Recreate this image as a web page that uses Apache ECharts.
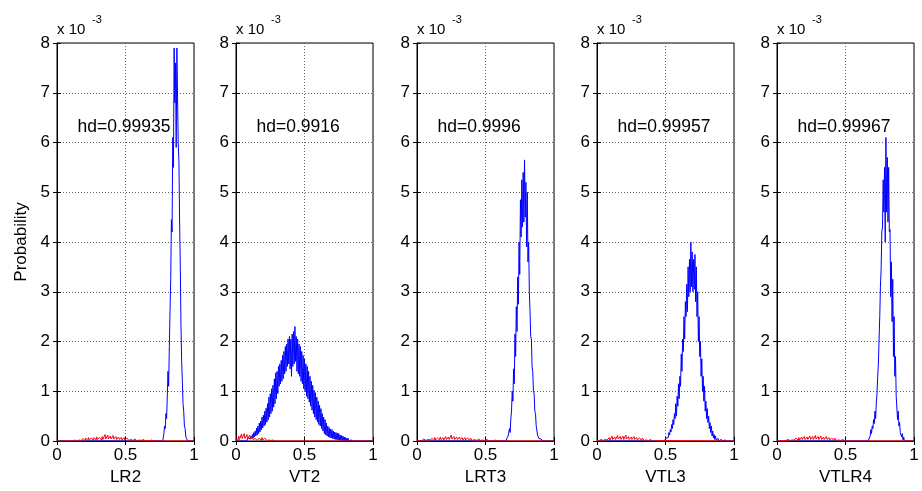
<!DOCTYPE html>
<html><head><meta charset="utf-8">
<script src="https://cdn.jsdelivr.net/npm/echarts@6/dist/echarts.min.js"></script>
<style>html,body{margin:0;padding:0;background:#fff}#c{width:922px;height:491px}</style>
</head><body><div id="c"></div>
<script>
// ---- data (probability values in units of 1e-3) ----
const panelNames = ['LR2', 'VT2', 'LRT3', 'VTL3', 'VTLR4'];
const hdLabels = ['hd=0.99935', 'hd=0.9916', 'hd=0.9996', 'hd=0.99957', 'hd=0.99967'];
const xTicks = [0, 0.5, 1];
const yTicks = [0, 1, 2, 3, 4, 5, 6, 7, 8];
const binWidth = 0.005;
const redBinWidth = 0.005;

const blueStart = [0.77, 0.06, 0.65, 0.49, 0.665];
const blueLR2 = [0, 0.05, 0.15, 0.3, 0.25, 0.55, 0.45, 0.9, 1.4, 1.1, 1.9, 2.6, 3.25, 4.45, 4.2, 6.1, 5.5, 7.9, 6.8, 7.6, 5.9, 7.9, 6.9, 6.0, 5.6, 4.4, 3.5, 2.3, 1.6, 1.2, 0.75, 0.6, 0.3, 0.25, 0.1, 0.05, 0.02, 0, 0.02, 0];
const blueVT2 = [0, 0.01, 0.02, 0, 0.04, 0.02, 0.06, 0.03, 0.08, 0.04, 0.1, 0.05, 0.13, 0.06, 0.17, 0.08, 0.2, 0.1, 0.26, 0.12, 0.3, 0.15, 0.36, 0.18, 0.4, 0.22, 0.48, 0.26, 0.52, 0.3, 0.6, 0.33, 0.66, 0.38, 0.75, 0.42, 0.88, 0.48, 0.95, 0.55, 1.05, 0.6, 1.12, 0.68, 1.25, 0.75, 1.37, 0.85, 1.4, 0.95, 1.5, 1.1, 1.55, 1.15, 1.62, 1.2, 1.72, 1.25, 1.8, 1.35, 1.9, 1.4, 1.95, 1.5, 2.05, 1.55, 2.1, 1.45, 2.05, 1.3, 2.15, 1.5, 2.2, 1.55, 2.3, 1.6, 2.1, 1.4, 2.05, 1.35, 1.95, 1.3, 1.9, 1.2, 1.8, 1.15, 1.72, 1.05, 1.65, 1.0, 1.55, 0.9, 1.5, 0.85, 1.4, 0.78, 1.3, 0.7, 1.2, 0.62, 1.12, 0.55, 1.02, 0.48, 0.97, 0.43, 0.88, 0.38, 0.8, 0.33, 0.72, 0.3, 0.65, 0.25, 0.55, 0.2, 0.48, 0.15, 0.43, 0.12, 0.36, 0.1, 0.3, 0.08, 0.27, 0.07, 0.24, 0.06, 0.23, 0.05, 0.2, 0.04, 0.18, 0.03, 0.17, 0.03, 0.16, 0.02, 0.15, 0.02, 0.12, 0.01, 0.11, 0.01, 0.1, 0, 0.08, 0, 0.07, 0, 0.06, 0, 0.05, 0, 0.03, 0, 0.02, 0, 0.02, 0, 0.01, 0, 0];
const blueLRT3 = [0, 0.05, 0.02, 0.1, 0.08, 0.25, 0.17, 0.45, 0.6, 1.0, 0.8, 1.45, 1.15, 2.15, 1.7, 2.7, 2.2, 3.3, 2.75, 4.0, 3.35, 4.85, 4.1, 5.25, 4.3, 5.4, 4.4, 5.65, 4.5, 5.2, 3.9, 5.0, 3.6, 4.0, 3.0, 2.6, 2.1, 2.05, 1.5, 1.4, 1.0, 0.95, 0.6, 0.55, 0.3, 0.3, 0.12, 0.15, 0.05, 0.08, 0.02, 0.04, 0, 0.02, 0];
const blueVTL3 = [0, 0.03, 0.02, 0.06, 0.04, 0.1, 0.07, 0.17, 0.12, 0.23, 0.18, 0.33, 0.25, 0.43, 0.33, 0.55, 0.45, 0.75, 0.5, 0.9, 0.7, 1.15, 0.85, 1.3, 1.1, 1.75, 1.4, 2.05, 1.8, 2.5, 2.05, 2.8, 2.5, 3.15, 2.6, 3.5, 2.9, 3.65, 3.0, 4.0, 3.1, 3.8, 3.0, 3.65, 3.05, 3.75, 2.8, 3.5, 2.5, 3.0, 2.0, 2.5, 1.7, 2.0, 1.3, 1.65, 1.0, 1.3, 0.8, 1.1, 0.6, 0.8, 0.45, 0.65, 0.37, 0.5, 0.25, 0.37, 0.17, 0.3, 0.1, 0.2, 0.06, 0.13, 0.03, 0.1, 0.02, 0.06, 0.01, 0.05, 0, 0.04, 0.01, 0.03, 0, 0.03, 0, 0.02, 0, 0.02, 0, 0.01, 0];
const blueVTLR4 = [0, 0.03, 0.02, 0.1, 0.23, 0.15, 0.3, 0.25, 0.43, 0.35, 0.6, 0.45, 0.77, 0.95, 1.3, 1.55, 2.05, 2.5, 3.1, 3.45, 4.2, 4.3, 5.25, 4.6, 5.5, 4.0, 6.1, 4.6, 5.7, 4.4, 5.5, 4.2, 4.25, 2.9, 3.6, 2.4, 3.25, 1.7, 2.5, 1.3, 1.7, 0.9, 0.9, 0.43, 0.6, 0.3, 0.37, 0.17, 0.2, 0.08, 0.15, 0.02, 0.08, 0, 0.03, 0];

const redStart = [0.10, 0.00, 0.02, 0.00, 0.05];
const redLR2 = [0, 0, 0.01, 0, 0, 0, 0.02, 0.01, 0.01, 0, 0.03, 0.01, 0.02, 0.01, 0.04, 0.01, 0.03, 0.01, 0.05, 0.02, 0.03, 0.01, 0.06, 0.02, 0.04, 0.01, 0.07, 0.02, 0.05, 0.02, 0.06, 0.02, 0.04, 0.01, 0.07, 0.03, 0.05, 0.02, 0.08, 0.03, 0.06, 0.02, 0.07, 0.03, 0.05, 0.02, 0.09, 0.03, 0.06, 0.02, 0.13, 0.04, 0.07, 0.03, 0.12, 0.04, 0.06, 0.02, 0.1, 0.04, 0.07, 0.03, 0.11, 0.04, 0.06, 0.02, 0.09, 0.03, 0.05, 0.02, 0.08, 0.03, 0.05, 0.02, 0.07, 0.02, 0.04, 0.01, 0.07, 0.02, 0.04, 0.01, 0.06, 0.02, 0.03, 0.01, 0.05, 0.02, 0.03, 0.01, 0.05, 0.01, 0.02, 0.01, 0.04, 0.01, 0.02, 0, 0.04, 0.01, 0.02, 0, 0.03, 0.01, 0.01, 0, 0.03, 0.01, 0.01, 0, 0.02, 0, 0.01, 0, 0.02, 0, 0, 0, 0.02, 0, 0, 0, 0.01, 0, 0, 0, 0.01, 0, 0];
const redVT2 = [0.02, 0.01, 0.06, 0.02, 0.1, 0.03, 0.07, 0.02, 0.14, 0.05, 0.09, 0.03, 0.15, 0.05, 0.08, 0.03, 0.13, 0.04, 0.07, 0.02, 0.12, 0.04, 0.05, 0.02, 0.08, 0.03, 0.03, 0.01, 0.05, 0.02, 0.02, 0.01, 0.04, 0.01, 0.06, 0.02, 0.03, 0.01, 0.07, 0.02, 0.04, 0.01, 0.06, 0.02, 0.03, 0.01, 0.05, 0.01, 0.02, 0.01, 0.04, 0.01, 0.01, 0, 0.02, 0, 0, 0, 0.01, 0, 0];
const redLRT3 = [0.01, 0, 0.03, 0.01, 0.02, 0.01, 0.04, 0.01, 0.02, 0.01, 0.05, 0.02, 0.03, 0.01, 0.06, 0.02, 0.03, 0.01, 0.05, 0.02, 0.04, 0.01, 0.07, 0.02, 0.04, 0.01, 0.06, 0.02, 0.05, 0.02, 0.08, 0.03, 0.05, 0.02, 0.07, 0.02, 0.05, 0.02, 0.09, 0.03, 0.06, 0.02, 0.08, 0.03, 0.05, 0.02, 0.12, 0.04, 0.06, 0.02, 0.09, 0.03, 0.05, 0.02, 0.08, 0.03, 0.05, 0.02, 0.08, 0.03, 0.04, 0.01, 0.07, 0.02, 0.04, 0.01, 0.07, 0.02, 0.04, 0.01, 0.06, 0.02, 0.03, 0.01, 0.06, 0.02, 0.03, 0.01, 0.05, 0.02, 0.03, 0.01, 0.05, 0.01, 0.02, 0.01, 0.04, 0.01, 0.02, 0.01, 0.04, 0.01, 0.02, 0, 0.03, 0.01, 0.01, 0, 0.03, 0.01, 0.01, 0, 0.02, 0, 0.01, 0, 0.02, 0, 0, 0, 0.02, 0, 0, 0, 0.01, 0, 0];
const redVTL3 = [0.01, 0, 0.02, 0.01, 0.01, 0, 0.03, 0.01, 0.02, 0.01, 0.04, 0.01, 0.03, 0.01, 0.06, 0.02, 0.03, 0.01, 0.07, 0.02, 0.05, 0.02, 0.1, 0.03, 0.05, 0.02, 0.08, 0.03, 0.06, 0.02, 0.11, 0.04, 0.06, 0.02, 0.09, 0.03, 0.05, 0.02, 0.1, 0.03, 0.06, 0.02, 0.12, 0.04, 0.07, 0.02, 0.09, 0.03, 0.05, 0.02, 0.08, 0.03, 0.05, 0.02, 0.09, 0.03, 0.04, 0.01, 0.07, 0.02, 0.04, 0.01, 0.06, 0.02, 0.03, 0.01, 0.06, 0.02, 0.03, 0.01, 0.05, 0.01, 0.02, 0.01, 0.04, 0.01, 0.02, 0, 0.03, 0.01, 0.02, 0, 0.03, 0.01, 0.01, 0, 0.02, 0, 0.01, 0, 0.02, 0, 0, 0, 0.01, 0, 0];
const redVTLR4 = [0.01, 0, 0.02, 0.01, 0.01, 0, 0.03, 0.01, 0.02, 0.01, 0.04, 0.01, 0.02, 0.01, 0.05, 0.02, 0.03, 0.01, 0.06, 0.02, 0.04, 0.01, 0.07, 0.02, 0.04, 0.01, 0.08, 0.03, 0.05, 0.02, 0.09, 0.03, 0.05, 0.02, 0.08, 0.03, 0.06, 0.02, 0.1, 0.03, 0.05, 0.02, 0.09, 0.03, 0.06, 0.02, 0.11, 0.04, 0.06, 0.02, 0.09, 0.03, 0.05, 0.02, 0.1, 0.03, 0.06, 0.02, 0.08, 0.03, 0.05, 0.02, 0.09, 0.03, 0.04, 0.01, 0.07, 0.02, 0.04, 0.01, 0.06, 0.02, 0.03, 0.01, 0.06, 0.02, 0.03, 0.01, 0.05, 0.01, 0.02, 0.01, 0.04, 0.01, 0.02, 0, 0.03, 0.01, 0.01, 0, 0.02, 0, 0, 0, 0.01, 0, 0];

const blueSets = [blueLR2, blueVT2, blueLRT3, blueVTL3, blueVTLR4];
const redSets = [redLR2, redVT2, redLRT3, redVTL3, redVTLR4];

// ---- layout ----
const FONT = 'Liberation Sans, Arial, sans-serif';
const gridLefts = [57, 236, 417, 597, 777];
const gridW = 137, gridTop = 43, gridH = 399;

function buildData(start, step, vals) {
  const out = [];
  if (start > 0) out.push([0, 0]);
  vals.forEach((v, i) => out.push([Math.round((start + i * step) * 10000) / 10000, v]));
  const last = out[out.length - 1][0];
  if (last < 1) out.push([1, 0]);
  return out;
}

const grids = [], xAxes = [], yAxes = [], series = [];
const gridLine = { show: true, lineStyle: { color: '#666', type: [1, 2], width: 1 } };
panelNames.forEach((name, i) => {
  grids.push({ left: gridLefts[i], top: gridTop, width: gridW, height: gridH, show: true,
    borderColor: '#000', borderWidth: 1, backgroundColor: '#fff' });
  const tickX = { show: true, inside: true, length: 4, lineStyle: { color: '#000' } };
  xAxes.push({ type: 'value', gridIndex: i, min: 0, max: 1, interval: 0.5, position: 'bottom',
    name: name, nameLocation: 'middle', nameGap: 28,
    nameTextStyle: { fontFamily: FONT, fontSize: 17, color: '#000' },
    axisLine: { show: true, lineStyle: { color: '#000' } }, axisTick: tickX,
    axisLabel: { fontFamily: FONT, fontSize: 17, color: '#000', margin: 6,
      formatter: v => xTicks.indexOf(v) >= 0 ? String(v) : '' },
    splitLine: gridLine });
  xAxes.push({ type: 'value', gridIndex: i, min: 0, max: 1, interval: 0.5, position: 'top',
    axisLine: { show: true, lineStyle: { color: '#000' } }, axisTick: tickX,
    axisLabel: { show: false }, splitLine: { show: false } });
  yAxes.push({ type: 'value', gridIndex: i, min: 0, max: 8, interval: 1, position: 'left',
    name: i === 0 ? 'Probability' : '', nameLocation: 'middle', nameGap: 27,
    nameTextStyle: { fontFamily: FONT, fontSize: 17, color: '#000' },
    axisLine: { show: true, lineStyle: { color: '#000' } }, axisTick: tickX,
    axisLabel: { fontFamily: FONT, fontSize: 17, color: '#000', margin: 7,
      formatter: v => yTicks.indexOf(v) >= 0 ? String(v) : '' },
    splitLine: gridLine });
  yAxes.push({ type: 'value', gridIndex: i, min: 0, max: 8, interval: 1, position: 'right',
    axisLine: { show: true, lineStyle: { color: '#000' } }, axisTick: tickX,
    axisLabel: { show: false }, splitLine: { show: false } });
  series.push({ type: 'line', xAxisIndex: 2 * i, yAxisIndex: 2 * i, showSymbol: false,
    data: buildData(blueStart[i], binWidth, blueSets[i]),
    lineStyle: { color: '#0000ff', width: 1 }, itemStyle: { color: '#0000ff' }, z: 3, silent: true });
  series.push({ type: 'line', xAxisIndex: 2 * i, yAxisIndex: 2 * i, showSymbol: false,
    data: buildData(redStart[i], redBinWidth, redSets[i]),
    lineStyle: { color: '#ff0000', width: 1 }, itemStyle: { color: '#ff0000' }, z: 4, silent: true });
});

const chart = echarts.init(document.getElementById('c'), null, { renderer: 'canvas' });
chart.setOption({ animation: false, backgroundColor: '#fff', grid: grids, xAxis: xAxes, yAxis: yAxes, series: series });

const graphics = [];
panelNames.forEach((name, i) => {
  const p = chart.convertToPixel({ gridIndex: i }, [0.15, 6.3]);
  graphics.push({ type: 'text', x: p[0], y: p[1], style: { text: hdLabels[i], font: '17.5px ' + FONT,
    fill: '#000', align: 'left', verticalAlign: 'middle', textAlign: 'left', textVerticalAlign: 'middle' }, z: 10 });
  graphics.push({ type: 'text', x: gridLefts[i], y: 30, style: { text: 'x 10', font: '15px ' + FONT,
    fill: '#000', align: 'left', verticalAlign: 'middle', textAlign: 'left', textVerticalAlign: 'middle' }, z: 10 });
  graphics.push({ type: 'text', x: gridLefts[i] + 35, y: 20, style: { text: '-3', font: '11px ' + FONT,
    fill: '#000', align: 'left', verticalAlign: 'middle', textAlign: 'left', textVerticalAlign: 'middle' }, z: 10 });
});
chart.setOption({ graphic: graphics });
</script></body></html>
